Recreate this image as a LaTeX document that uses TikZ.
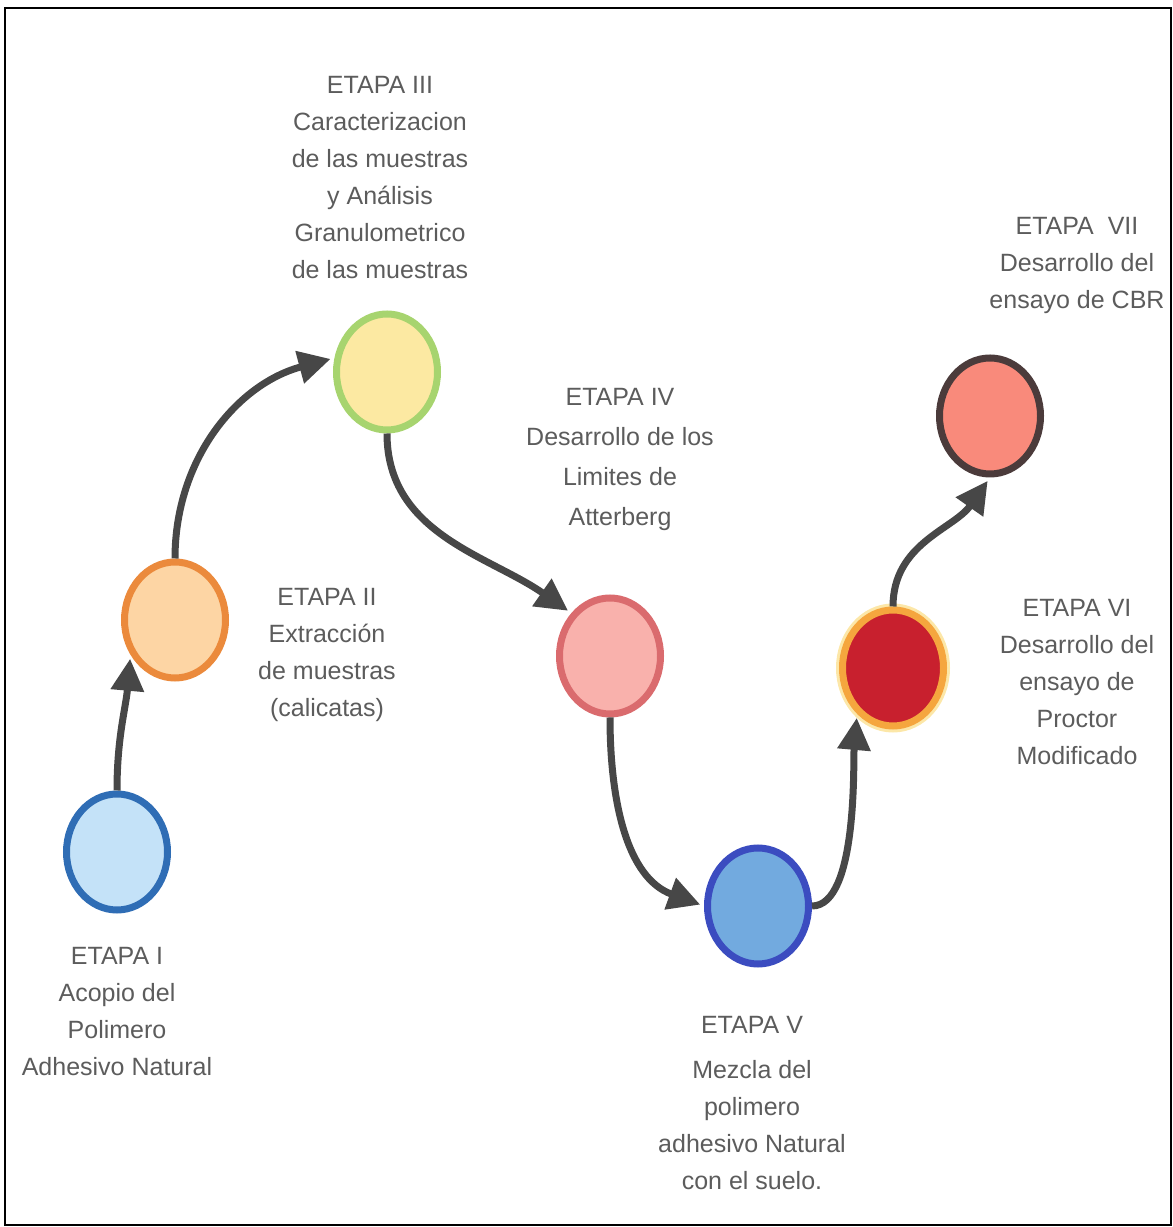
\documentclass[tikz,border=0pt]{standalone}
\usepackage{fontspec}
\setmainfont{Liberation Sans}
\usepackage{xcolor}
\usetikzlibrary{arrows.meta, shapes.geometric, positioning}

\definecolor{flechagris}{HTML}{474747}
\definecolor{textogris}{HTML}{5C5C5C}
\definecolor{bordeI}{HTML}{2F6DB5}   \definecolor{rellenoI}{HTML}{C4E2F8}
\definecolor{bordeII}{HTML}{EB8A3C}  \definecolor{rellenoII}{HTML}{FDD5A4}
\definecolor{bordeIII}{HTML}{A7D46F} \definecolor{rellenoIII}{HTML}{FCE9A2}
\definecolor{bordeIV}{HTML}{DA6B6E}  \definecolor{rellenoIV}{HTML}{F9B1AC}
\definecolor{bordeV}{HTML}{3B4CC0}   \definecolor{rellenoV}{HTML}{72AADF}
\definecolor{bordeVI}{HTML}{F5A63E}  \definecolor{rellenoVI}{HTML}{C8202E}
\definecolor{halo}{HTML}{FCE7A8}
\definecolor{bordeVII}{HTML}{4B3B3B} \definecolor{rellenoVII}{HTML}{F98A7B}

\begin{document}
\begin{tikzpicture}[x=1pt, y=1pt,
  etapa/.style  = {ellipse, minimum width=101pt, minimum height=116pt,
                   inner sep=0pt, line width=7pt},
  flecha/.style = {-{Triangle[length=32pt, width=32pt]},
                   line width=7pt, draw=flechagris, shorten >=4pt},
  lbl/.style    = {font=\fontsize{25}{37}\selectfont, text=textogris,
                   align=center, inner sep=0pt},
]
\useasboundingbox (0,0) rectangle (1173,1227);
\draw[line width=1.5pt] (5,2) rectangle (1171,1219);

\node[etapa, draw=bordeI, fill=rellenoI] (e1) at (117,375) {};
\node[etapa, draw=bordeII, fill=rellenoII] (e2) at (175,607) {};
\node[etapa, draw=bordeIII, fill=rellenoIII] (e3) at (387,855) {};
\node[etapa, draw=bordeIV, fill=rellenoIV] (e4) at (610,571) {};
\node[etapa, draw=bordeV, fill=rellenoV] (e5) at (758,321) {};
\node[etapa, draw=bordeVI, fill=rellenoVI,
      preaction={draw=halo, line width=13pt}] (e6) at (893,559) {};
\node[etapa, draw=bordeVII, fill=rellenoVII] (e7) at (990,811) {};

\draw[flecha] (e1.north) to[out=90, in=-95] (e2.218);
\draw[flecha] (e2.north) to[out=90, in=195] (e3.165);
\draw[flecha] (e3.south) to[out=-90, in=145] (e4.132);
\draw[flecha] (e4.south) to[out=-90, in=160] (e5.west);
\draw[flecha] (e5.east) to[out=0, in=-95, looseness=0.6] (e6.232);
\draw[flecha] (e6.north) to[out=90, in=235] (e7.south);

%% Textos
\node[lbl] (t1) at (117,215) {ETAPA I\\Acopio del\\Polimero\\Adhesivo Natural};
\node[lbl] (t2) at (327,572) {ETAPA II\\Extracción\\de muestras\\(calicatas)};
\node[lbl] (t3) at (380,1049) {ETAPA III\\Caracterizacion\\de las muestras\\y Análisis\\Granulometrico\\de las muestras};
\node[lbl, font=\fontsize{25}{40}\selectfont] (t4) at (620,767) {ETAPA IV\\Desarrollo de los\\Limites de\\Atterberg};
\node[lbl] (t5) at (752,124) {ETAPA V\\[8pt]Mezcla del\\polimero\\adhesivo Natural\\con el suelo.};
\node[lbl] (t6) at (1077,545) {ETAPA VI\\Desarrollo del\\ensayo de\\Proctor\\Modificado};
\node[lbl] (t7) at (1077,961) {ETAPA\ \ VII\\Desarrollo del\\ensayo de CBR};

\end{tikzpicture}
\end{document}
